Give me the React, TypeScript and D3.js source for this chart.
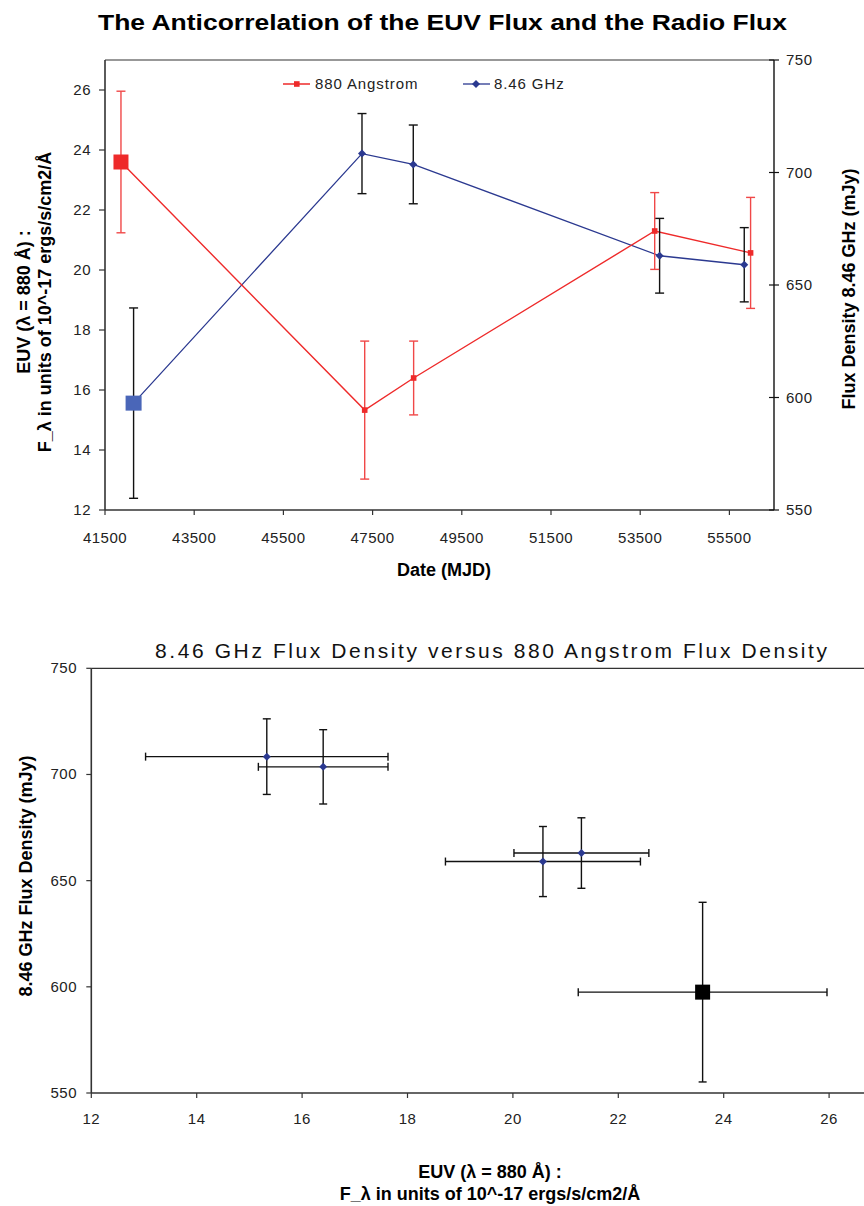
import React from "react";
import * as d3 from "d3";

// ---------- data ----------
const euvMjd = [41858, 47323, 48420, 53825, 55975];
const euvFlux = [23.6, 15.33, 16.4, 21.3, 20.57];
const euvErr = [2.36, 2.3, 1.23, 1.28, 1.85];

const radioMjd = [42141, 47262, 48412, 53935, 55833];
const radioFlux = [597.5, 708.4, 703.6, 663, 659];
const radioErr = [42.3, 17.8, 17.5, 16.6, 16.5];

const mjdTicks = [41500, 43500, 45500, 47500, 49500, 51500, 53500, 55500];
const euvTicks = [12, 14, 16, 18, 20, 22, 24, 26];
const radioTicks = [550, 600, 650, 700, 750];

const seriesNames = ["880 Angstrom", "8.46 GHz"];

const FONT = "'Liberation Sans', Arial, Helvetica, sans-serif";
const RED = "#EE2A2A";
const RED_ERR = "#F04848";
const BLUE_LINE = "#2B3990";
const BLUE_BIG = "#4A66B8";
const AXIS = "#333";

function diamond(x: number, y: number, r: number) {
  return `M${x},${y - r}L${x + r},${y}L${x},${y + r}L${x - r},${y}Z`;
}

function VErr({ x, y0, y1, color, cap = 4.5 }: any) {
  return (
    <g stroke={color} strokeWidth={1.4} fill="none">
      <line x1={x} x2={x} y1={y0} y2={y1} />
      <line x1={x - cap} x2={x + cap} y1={y0} y2={y0} />
      <line x1={x - cap} x2={x + cap} y1={y1} y2={y1} />
    </g>
  );
}
function HErr({ y, x0, x1, color, cap = 4 }: any) {
  return (
    <g stroke={color} strokeWidth={1.4} fill="none">
      <line x1={x0} x2={x1} y1={y} y2={y} />
      <line x1={x0} x2={x0} y1={y - cap} y2={y + cap} />
      <line x1={x1} x2={x1} y1={y - cap} y2={y + cap} />
    </g>
  );
}

export default function App() {
  // ---------- top chart scales ----------
  const L = 105, R = 774, T = 60, B = 510;
  const x = d3.scaleLinear().domain([41500, 56500]).range([L, R]);
  const yL = d3.scaleLinear().domain([12, 27]).range([B, T]);
  const yR = d3.scaleLinear().domain([550, 750]).range([B, T]);

  const euvPts = euvMjd.map((m, i) => [x(m), yL(euvFlux[i])] as [number, number]);
  const radPts = radioMjd.map((m, i) => [x(m), yR(radioFlux[i])] as [number, number]);
  const lineGen = d3.line();

  // ---------- bottom chart scales ----------
  const L2 = 91.3, T2 = 668.3, B2 = 1093;
  const sx = d3.scaleLinear().domain([12, 27]).range([L2, L2 + 15 * 52.7]);
  const sy = d3.scaleLinear().domain([550, 750]).range([B2, T2]);

  const tickStyle: any = { fontFamily: FONT, fontSize: 15, letterSpacing: 0.5, fill: "#222" };
  const boldLabel: any = { fontFamily: FONT, fontSize: 18, fontWeight: "bold", fill: "#000" };

  return (
    <svg width={864} height={1206} style={{ position: "absolute", left: 0, top: 0, background: "#fff" }}>
      <rect width={864} height={1206} fill="#fff" />
      {/* ===== Top chart ===== */}
      <text x={98} y={30} textLength={689} lengthAdjust="spacingAndGlyphs" style={{ fontFamily: FONT, fontSize: 22, fontWeight: "bold" }}>
        The Anticorrelation of the EUV Flux and the Radio Flux
      </text>

      {/* frame */}
      <line x1={L} x2={R} y1={T} y2={T} stroke={AXIS} strokeWidth={1.2} />
      <line x1={L} x2={L} y1={T} y2={B} stroke={AXIS} strokeWidth={1.6} />
      <line x1={L} x2={R} y1={B} y2={B} stroke={AXIS} strokeWidth={1.6} />
      <line x1={R} x2={R} y1={T} y2={B} stroke="#111" strokeWidth={1.4} />

      {/* left ticks */}
      {euvTicks.map((t) => (
        <g key={"l" + t}>
          <line x1={L - 6} x2={L} y1={yL(t)} y2={yL(t)} stroke={AXIS} strokeWidth={1.2} />
          <text x={91} y={yL(t) + 5} textAnchor="end" style={tickStyle}>{t}</text>
        </g>
      ))}
      {/* right ticks */}
      {radioTicks.map((t) => (
        <g key={"r" + t}>
          <line x1={R - 5} x2={R + 5} y1={yR(t)} y2={yR(t)} stroke="#111" strokeWidth={1.2} />
          <text x={786} y={yR(t) + 5} style={tickStyle}>{t}</text>
        </g>
      ))}
      {/* bottom ticks */}
      {mjdTicks.map((t) => (
        <g key={"x" + t}>
          <line x1={x(t)} x2={x(t)} y1={B} y2={B + 5} stroke={AXIS} strokeWidth={1.2} />
          <text x={x(t)} y={543} textAnchor="middle" style={tickStyle}>{t}</text>
        </g>
      ))}

      {/* axis titles */}
      <text x={444} y={576} textAnchor="middle" style={boldLabel}>Date (MJD)</text>
      <g transform="translate(30,302) rotate(-90)">
        <text x={0} y={0} textAnchor="middle" style={boldLabel}>EUV (λ = 880 Å) :</text>
      </g>
      <g transform="translate(51,302) rotate(-90)">
        <text x={0} y={0} textAnchor="middle" style={boldLabel}>F_λ in units of 10^-17 ergs/s/cm2/Å</text>
      </g>
      <g transform="translate(855,289) rotate(-90)">
        <text x={0} y={0} textAnchor="middle" style={boldLabel}>Flux Density 8.46 GHz (mJy)</text>
      </g>

      {/* lines */}
      <path d={lineGen(radPts) || ""} fill="none" stroke={BLUE_LINE} strokeWidth={1.3} />
      <path d={lineGen(euvPts) || ""} fill="none" stroke={RED} strokeWidth={1.4} />

      {/* radio error bars */}
      {radioMjd.map((m, i) => (
        <VErr key={"re" + i} x={x(m)} y0={yR(radioFlux[i] + radioErr[i])} y1={yR(radioFlux[i] - radioErr[i])} color="#111" />
      ))}
      {/* euv error bars */}
      {euvMjd.map((m, i) => (
        <VErr key={"ee" + i} x={x(m)} y0={yL(euvFlux[i] + euvErr[i])} y1={yL(euvFlux[i] - euvErr[i])} color={RED_ERR} />
      ))}

      {/* markers */}
      {radPts.map(([px, py], i) =>
        i === 0 ? (
          <rect key={"rm" + i} x={px - 8} y={py - 7.5} width={16} height={15} fill={BLUE_BIG} />
        ) : (
          <path key={"rm" + i} d={diamond(px, py, 4)} fill={BLUE_LINE} />
        )
      )}
      {euvPts.map(([px, py], i) =>
        i === 0 ? (
          <rect key={"em" + i} x={px - 7.5} y={py - 7.5} width={15} height={15} fill={RED} />
        ) : (
          <rect key={"em" + i} x={px - 2.8} y={py - 2.8} width={5.6} height={5.6} fill={RED} />
        )
      )}

      {/* legend */}
      <line x1={283} x2={310} y1={84} y2={84} stroke={RED} strokeWidth={1.5} />
      <rect x={294} y={81.2} width={5.6} height={5.6} fill={RED} />
      <text x={315} y={89} style={{ ...tickStyle, letterSpacing: 0.9 }}>{seriesNames[0]}</text>
      <line x1={463} x2={490} y1={84} y2={84} stroke={BLUE_LINE} strokeWidth={1.3} />
      <path d={diamond(476, 84, 4)} fill={BLUE_LINE} />
      <text x={494} y={89} style={{ ...tickStyle, letterSpacing: 0.9 }}>{seriesNames[1]}</text>

      {/* ===== Bottom chart ===== */}
      <text x={155} y={658} textLength={672} lengthAdjust="spacing" style={{ fontFamily: FONT, fontSize: 21, fill: "#111" }}>
        8.46 GHz Flux Density versus 880 Angstrom Flux Density
      </text>

      <line x1={L2} x2={sx(27)} y1={T2} y2={T2} stroke={AXIS} strokeWidth={1.2} />
      <line x1={L2} x2={L2} y1={T2} y2={B2} stroke={AXIS} strokeWidth={1.6} />
      <line x1={L2} x2={sx(27)} y1={B2} y2={B2} stroke={AXIS} strokeWidth={1.6} />

      {radioTicks.map((t) => (
        <g key={"sy" + t}>
          <line x1={L2 - 5} x2={L2} y1={sy(t)} y2={sy(t)} stroke={AXIS} strokeWidth={1.2} />
          <text x={77} y={sy(t) + 5} textAnchor="end" style={tickStyle}>{t}</text>
        </g>
      ))}
      {euvTicks.map((t) => (
        <g key={"sx" + t}>
          <line x1={sx(t)} x2={sx(t)} y1={B2} y2={B2 + 5} stroke={AXIS} strokeWidth={1.2} />
          <text x={sx(t)} y={1124} textAnchor="middle" style={tickStyle}>{t}</text>
        </g>
      ))}

      <g transform="translate(32,876) rotate(-90)">
        <text x={0} y={0} textAnchor="middle" style={boldLabel}>8.46 GHz Flux Density (mJy)</text>
      </g>
      <text x={490} y={1178} textAnchor="middle" style={boldLabel}>EUV (λ = 880 Å) :</text>
      <text x={490} y={1200} textAnchor="middle" style={boldLabel}>F_λ in units of 10^-17 ergs/s/cm2/Å</text>

      {euvFlux.map((e, i) => {
        const px = sx(e), py = sy(radioFlux[i]);
        return (
          <g key={"sp" + i}>
            <HErr y={py} x0={sx(e - euvErr[i])} x1={sx(e + euvErr[i])} color="#111" />
            <VErr x={px} y0={sy(radioFlux[i] + radioErr[i])} y1={sy(radioFlux[i] - radioErr[i])} color="#111" cap={4} />
            {i === 0 ? (
              <rect x={px - 7.5} y={py - 7.5} width={15} height={15} fill="#000" />
            ) : (
              <path d={diamond(px, py, 4)} fill={BLUE_LINE} />
            )}
          </g>
        );
      })}
    </svg>
  );
}
